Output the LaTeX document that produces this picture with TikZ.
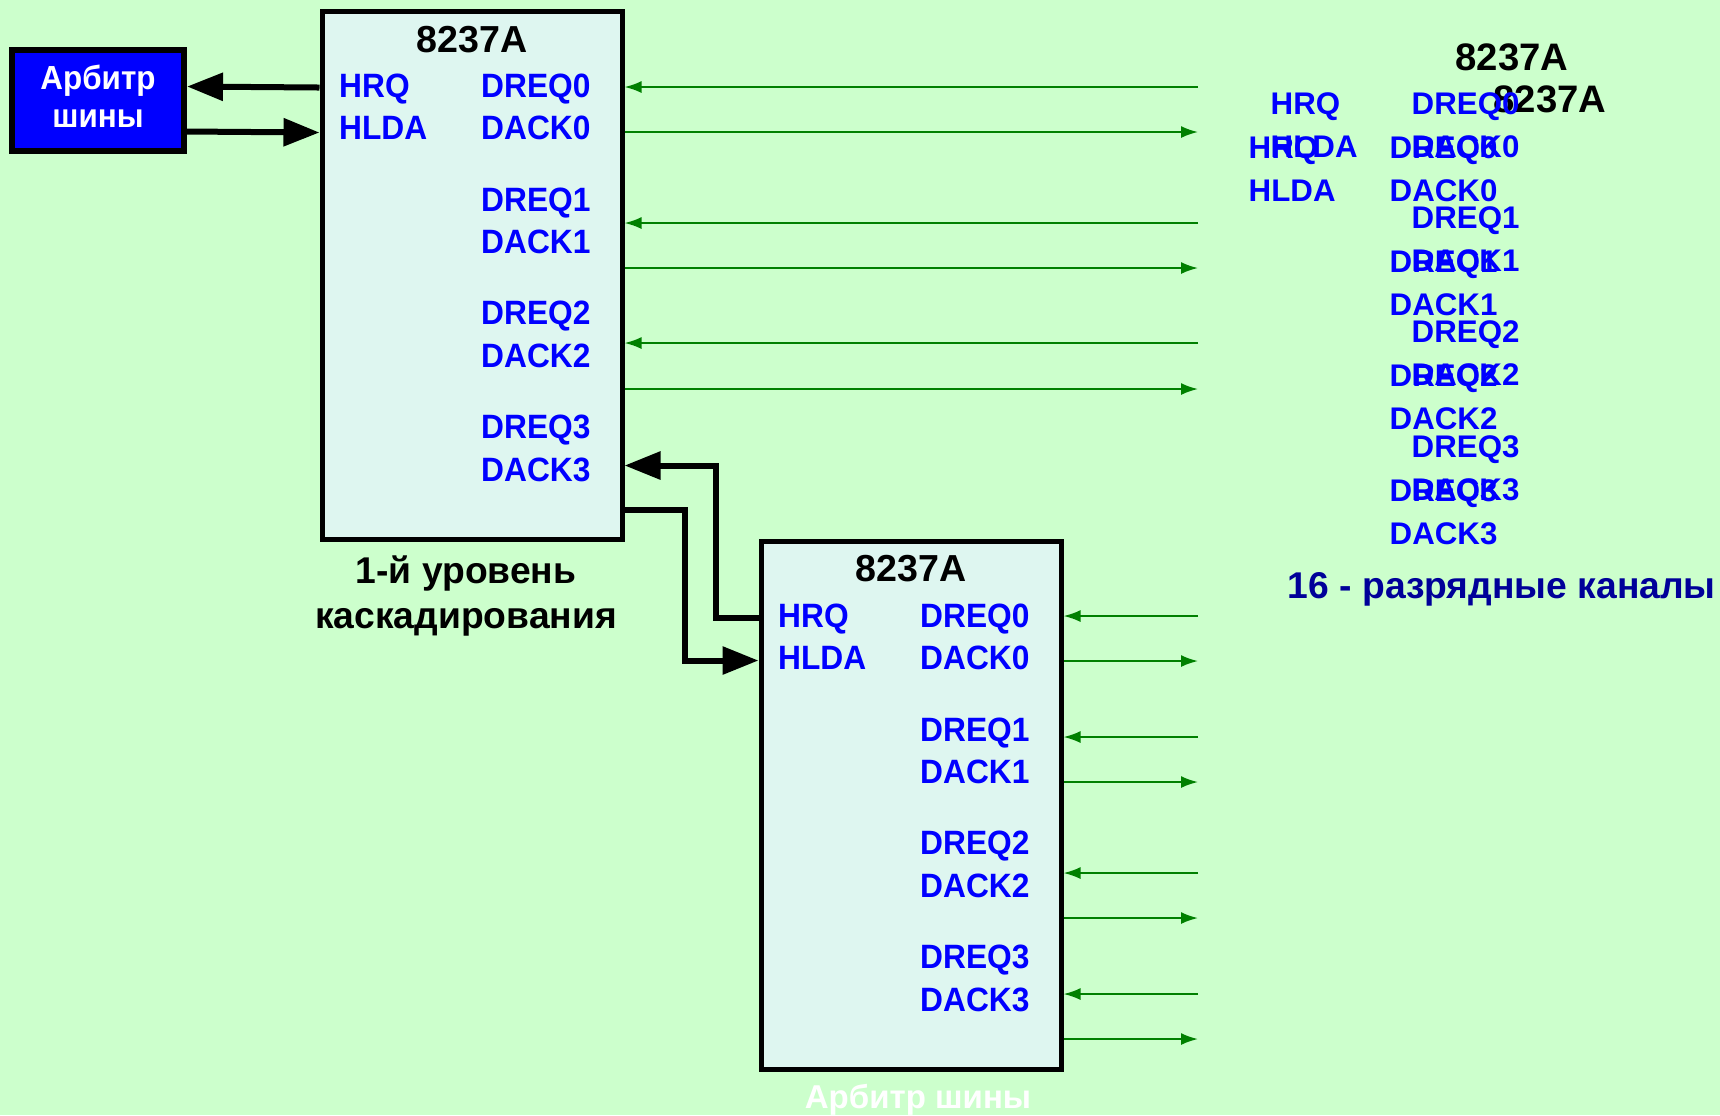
\documentclass[tikz,border=0pt]{standalone}
\usepackage{fontspec}
\setmainfont{Liberation Sans}
\newfontfamily\pinfont[FakeStretch=0.94]{Liberation Sans}
\usetikzlibrary{arrows.meta, calc, positioning}

\definecolor{bggreen}{RGB}{204,255,204}
\definecolor{chipfill}{RGB}{222,246,240}
\definecolor{pinblue}{RGB}{0,0,255}
\definecolor{siggreen}{RGB}{0,128,0}
\definecolor{navyblue}{RGB}{0,0,153}

\begin{document}
\begin{tikzpicture}[x=0.1mm, y=-0.1mm,
    chip/.style={rectangle, draw=black, line width=0.5mm, fill=chipfill, minimum width=30mm, minimum height=52.8mm, inner sep=0pt},
    arbiter/.style={rectangle, draw=black, line width=0.6mm, fill=pinblue, minimum width=17.2mm, minimum height=10.1mm, inner sep=0pt},
    arbtext/.style={inner sep=0pt, text=white, align=center, font=\pinfont\bfseries\fontsize{9.5}{10.8}\selectfont},
    title/.style={anchor=base, inner sep=0pt, font=\bfseries\fontsize{10.7}{12}\selectfont},
    pin/.style={anchor=base west, inner sep=0pt, text=pinblue, font=\pinfont\bfseries\fontsize{9.6}{11}\selectfont},
    ghost/.style={anchor=base west, inner sep=0pt, text=pinblue, font=\bfseries\fontsize{8.9}{10}\selectfont},
    caption/.style={inner sep=0pt, align=center, font=\bfseries\fontsize{10.6}{12.8}\selectfont},
    sig/.style={-{Latex[length=1.7mm, width=1.2mm]}, line width=0.2mm, draw=siggreen},
    bus/.style={-{Triangle[length=3.6mm, width=2.7mm]}, line width=0.6mm, draw=black}
]
    \useasboundingbox (0,0) rectangle (1720,1115);
    \fill[bggreen] (0,0) rectangle (1720,1115);

    % controllers
    \node[chip] (chip1) at (472,275) {};
    \node[chip] (chip2) at (911,805) {};
    \node[arbiter] (arb) at (98,100) {};
    \node[arbtext] (arbtxt) at ($(arb.center)+(0,-4)$) {Арбитр\\шины};

    \node[title] (t1) at ($(chip1.north)+(0,44)$) {8237A};
    \node[title] (t2) at ($(chip2.north)+(0,43)$) {8237A};

    % pins of both controllers
    \foreach \c in {1,2} {
        \node[pin] (c\c-HRQ) at ($(chip\c.north west)+(19,89)$) {HRQ};
        \node[pin] (c\c-HLDA) at ($(chip\c.north west)+(19,131)$) {HLDA};
        \foreach \name/\dy in {DREQ0/89, DACK0/131, DREQ1/203, DACK1/245, DREQ2/316, DACK2/359, DREQ3/430, DACK3/473}
            \node[pin] (c\c-\name) at ($(chip\c.north west)+(161,\dy)$) {\name};
    }

    \node[caption, anchor=north] (lvl1) at ($(chip1.south)+(-6,14)$) {1-й уровень\\каскадирования};

    % arbiter handshake
    \draw[bus] ($(chip1.north west)+(0,79)$) -- ($(arb.north east)+(0,40)$);
    \draw[bus] ($(arb.north east)+(0,85)$) -- ($(chip1.north west)+(0,124)$);

    % cascade
    \draw[bus] ($(chip2.north west)+(0,79)$) -| ($(chip1.north east)+(91,457)$) -- ($(chip1.north east)+(0,457)$);
    \draw[bus] ($(chip1.north east)+(0,501)$) -| ($(chip2.north west)+(-74,122)$) -- ($(chip2.north west)+(0,122)$);

    % channel lines
    \foreach \i/\y in {0/87, 1/223, 2/343} {
        \coordinate (req1-\i) at (1198,\y);
        \draw[sig] (req1-\i) -- (chip1.east |- req1-\i);
    }
    \foreach \i/\y in {0/132, 1/268, 2/389} {
        \coordinate (ack1-\i) at (1198,\y);
        \draw[sig] (chip1.east |- ack1-\i) -- (ack1-\i);
    }
    \foreach \i/\y in {0/616, 1/737, 2/873, 3/994} {
        \coordinate (req2-\i) at (1198,\y);
        \draw[sig] (req2-\i) -- (chip2.east |- req2-\i);
    }
    \foreach \i/\y in {0/661, 1/782, 2/918, 3/1039} {
        \coordinate (ack2-\i) at (1198,\y);
        \draw[sig] (chip2.east |- ack2-\i) -- (ack2-\i);
    }

    % overlapping labels on the right
    \coordinate (ghostA) at (1230,71);
    \coordinate (ghostB) at (1252,27);
    \node[title, font=\bfseries\fontsize{10.9}{12}\selectfont] (gtA) at (1512,70) {8237A};
    \node[title, font=\bfseries\fontsize{10.9}{12}\selectfont] (gtB) at (1550,112) {8237A};
    \foreach \g in {A,B} {
        \node[ghost] (g\g-HRQ) at ($(ghost\g)+(18,87)$) {HRQ};
        \node[ghost] (g\g-HLDA) at ($(ghost\g)+(18,130)$) {HLDA};
        \foreach \name/\dy in {DREQ0/87, DACK0/130, DREQ1/201, DACK1/244, DREQ2/315, DACK2/358, DREQ3/430, DACK3/473}
            \node[ghost] (g\g-\name) at ($(ghost\g)+(159,\dy)$) {\name};
    }

    \node[anchor=base west, inner sep=0pt, text=navyblue, font=\bfseries\fontsize{10.6}{12}\selectfont] (bits) at (1287,598) {16 - разрядные каналы};
    \node[anchor=base, inner sep=0pt, text=white, font=\bfseries\fontsize{9.4}{11}\selectfont] (arbcap) at (918,1108) {Арбитр шины};
\end{tikzpicture}
\end{document}
